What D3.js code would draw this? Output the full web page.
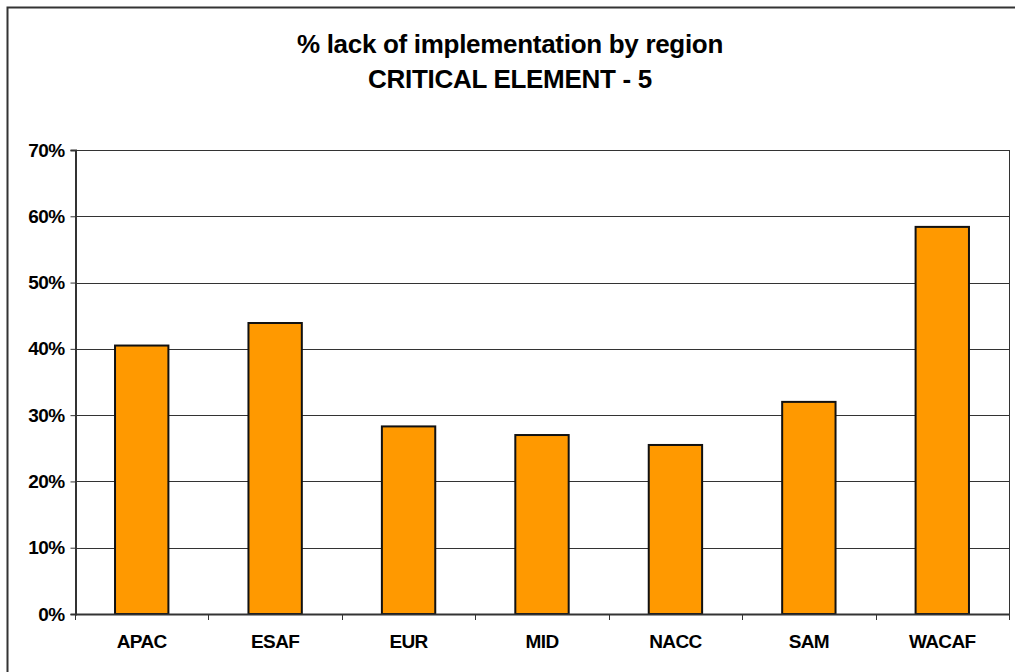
<!DOCTYPE html>
<html>
<head>
<meta charset="utf-8">
<script src="https://cdn.jsdelivr.net/npm/d3@7"></script>
<style>
  body { margin: 0; background: #fff; }
  svg { display: block; font-family: "Liberation Sans", Arial, sans-serif; }
</style>
</head>
<body>
<svg width="1015" height="672"></svg>
<script>
const regions = ['APAC', 'ESAF', 'EUR', 'MID', 'NACC', 'SAM', 'WACAF'];
const lackPct = [0.405, 0.439, 0.283, 0.270, 0.255, 0.320, 0.584];
const yTicks = [0, 0.1, 0.2, 0.3, 0.4, 0.5, 0.6, 0.7];
const titleLines = ['% lack of implementation by region', 'CRITICAL ELEMENT - 5'];

const svg = d3.select('svg');

// outer chart frame: only left and top edges are visible in the window
svg.append('path')
    .attr('d', 'M7.5,672V7.5H1015')
    .attr('fill', 'none')
    .attr('stroke', '#333')
    .attr('stroke-width', 2);

const margin = { top: 150, right: 6, bottom: 58, left: 75 };
const innerWidth = 1015 - margin.left - margin.right;
const innerHeight = 672 - margin.top - margin.bottom;

const g = svg.append('g')
    .attr('transform', `translate(${margin.left},${margin.top})`);

const xScale = d3.scaleBand()
    .domain(regions)
    .range([0, innerWidth])
    .paddingInner(0.6)
    .paddingOuter(0.3);

const yScale = d3.scaleLinear()
    .domain([0, 0.7])
    .range([innerHeight, 0]);

// gridlines
g.append('g')
  .selectAll('line').data(yTicks).enter().append('line')
    .attr('x1', 0).attr('x2', innerWidth)
    .attr('y1', d => Math.round(yScale(d)) + 0.5)
    .attr('y2', d => Math.round(yScale(d)) + 0.5)
    .attr('stroke', '#333')
    .attr('stroke-width', 1);

// plot area border
g.append('rect')
    .attr('x', 0.5).attr('y', 0.5)
    .attr('width', innerWidth).attr('height', innerHeight)
    .attr('fill', 'none')
    .attr('stroke', '#333')
    .attr('stroke-width', 1);

// bars
g.selectAll('.bar').data(lackPct).enter().append('rect')
    .attr('class', 'bar')
    .attr('x', (d, i) => xScale(regions[i]))
    .attr('y', d => yScale(d))
    .attr('width', xScale.bandwidth())
    .attr('height', d => innerHeight - yScale(d))
    .attr('fill', '#FF9900')
    .attr('stroke', '#111')
    .attr('stroke-width', 2);

// y axis
const yAxis = d3.axisLeft(yScale)
    .tickValues(yTicks)
    .tickSize(5)
    .tickPadding(6)
    .tickFormat(d3.format('.0%'));

const yAxisG = g.append('g')
    .attr('transform', 'translate(0.5,0)')
    .call(yAxis);
yAxisG.select('.domain').attr('stroke', '#333').attr('stroke-width', 2);
yAxisG.selectAll('.tick line').attr('stroke', '#333');
yAxisG.selectAll('.tick text')
    .attr('font-size', 19)
    .attr('font-weight', 'bold')
    .attr('fill', '#000')
    .attr('letter-spacing', -0.6);

// x axis: ticks at category boundaries
const xAxisG = g.append('g')
    .attr('transform', `translate(0,${innerHeight})`);
xAxisG.append('line')
    .attr('x1', 0).attr('x2', innerWidth)
    .attr('y1', 0.5).attr('y2', 0.5)
    .attr('stroke', '#333').attr('stroke-width', 2);
const step = innerWidth / regions.length;
xAxisG.selectAll('.xtick').data(d3.range(regions.length + 1)).enter().append('line')
    .attr('class', 'xtick')
    .attr('x1', i => Math.round(i * step) + 0.5)
    .attr('x2', i => Math.round(i * step) + 0.5)
    .attr('y1', 0).attr('y2', 6)
    .attr('stroke', '#333');
xAxisG.selectAll('.xlabel').data(regions).enter().append('text')
    .attr('class', 'xlabel')
    .attr('x', d => xScale(d) + xScale.bandwidth() / 2)
    .attr('y', 34)
    .attr('text-anchor', 'middle')
    .attr('font-size', 19)
    .attr('font-weight', 'bold')
    .attr('letter-spacing', -0.6)
    .text(d => d);

// title
svg.append('g').selectAll('text').data(titleLines).enter().append('text')
    .attr('x', 510)
    .attr('y', (d, i) => 53 + i * 35)
    .attr('text-anchor', 'middle')
    .attr('font-size', 26)
    .attr('font-weight', 'bold')
    .attr('letter-spacing', -0.3)
    .text(d => d);
</script>
</body>
</html>
